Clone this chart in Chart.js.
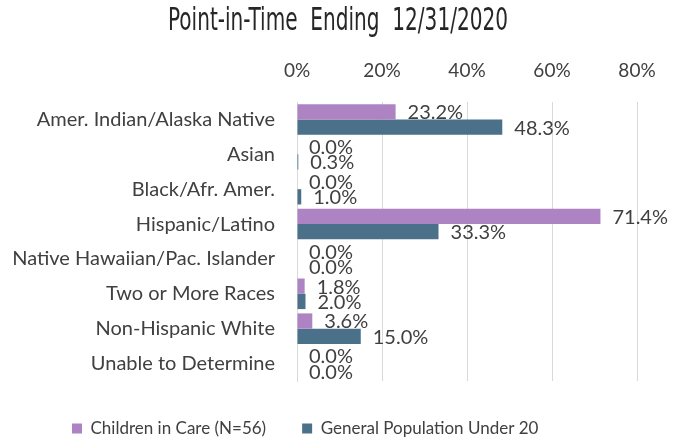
<!DOCTYPE html>
<html><head><meta charset="utf-8">
<script src="https://cdn.jsdelivr.net/npm/chart.js@4"></script>
<style>html,body{margin:0;padding:0;background:#fff}#wrap{width:686px;height:442px;position:relative}</style>
</head><body><div id="wrap"><canvas id="c" width="686" height="442"></canvas></div>
<script>
const titleText = "Point-in-Time  Ending  12/31/2020";
const categories = ["Amer. Indian/Alaska Native","Asian","Black/Afr. Amer.","Hispanic/Latino","Native Hawaiian/Pac. Islander","Two or More Races","Non-Hispanic White","Unable to Determine"];
const seriesNames = ["Children in Care (N=56)","General Population Under 20"];
const childrenInCare = [23.2,0.0,0.0,71.4,0.0,1.8,3.6,0.0];
const generalPop = [48.3,0.3,1.0,33.3,0.0,2.0,15.0,0.0];
const xTicks = [0,20,40,60,80];

const TXT = '#404040';
const titlePlugin = {
  id:'titleP',
  afterDraw(chart){
    const ctx = chart.ctx; ctx.save();
    ctx.font = '32px "Liberation Sans Narrow", "DejaVu Sans Condensed", sans-serif';
    ctx.fillStyle = '#262626'; ctx.textBaseline='middle'; ctx.textAlign='left';
    const w = ctx.measureText(titleText).width;
    const target = 340, sx = target / w;
    ctx.translate(168, 22); ctx.scale(sx, 1);
    ctx.fillText(titleText, 0, 0);
    ctx.restore();
  }
};
const legendShift = {
  id:'legendShift',
  afterLayout(chart){ if (chart.legend) { chart.legend.left = 36; chart.legend.top += 3; } }
};
const labelPlugin = {
  id:'dlabels',
  afterDatasetsDraw(chart){
    const ctx = chart.ctx; ctx.save();
    ctx.font = '20px Lato, sans-serif'; ctx.fillStyle = TXT;
    ctx.textAlign='left'; ctx.textBaseline='middle';
    chart.data.datasets.forEach((ds,i)=>{
      chart.getDatasetMeta(i).data.forEach((el,j)=>{
        ctx.fillText(ds.data[j].toFixed(1)+'%', el.x + 12, el.y + 1);
      });
    });
    ctx.restore();
  }
};
new Chart(document.getElementById('c'), {
  type:'bar',
  data:{labels:categories, datasets:[
    {label:seriesNames[0], data:childrenInCare, backgroundColor:'#AE83C4', borderWidth:0},
    {label:seriesNames[1], data:generalPop, backgroundColor:'#4A7189', borderWidth:0}
  ]},
  options:{
    indexAxis:'y', responsive:false, animation:false,
    layout:{padding:{left:0,right:49,top:0,bottom:-2}},
    datasets:{bar:{categoryPercentage:0.877, barPercentage:1}},
    scales:{
      x:{position:'top', min:0, max:80,
        afterBuildTicks(s){ s.ticks = xTicks.map(v=>({value:v})); },
        afterFit(s){ s.height = 102; },
        grid:{color:'#d9d9d9', drawTicks:false, lineWidth:1},
        border:{display:false},
        ticks:{padding:20, color:TXT, font:{family:'Lato', size:19}, callback:v=>v+'%'}
      },
      y:{grid:{display:false}, border:{display:true, color:'#d9d9d9'},
        afterFit(s){ s.width = 297; },
        ticks:{padding:14, color:TXT, font:{family:'Lato', size:20}}
      }
    },
    plugins:{
      legend:{position:'bottom', align:'start', labels:{boxWidth:10, boxHeight:10, color:TXT, padding:36, font:{family:'Lato', size:17}}},
      tooltip:{enabled:false}, title:{display:false}
    }
  },
  plugins:[titlePlugin, labelPlugin, legendShift]
});
</script></body></html>
